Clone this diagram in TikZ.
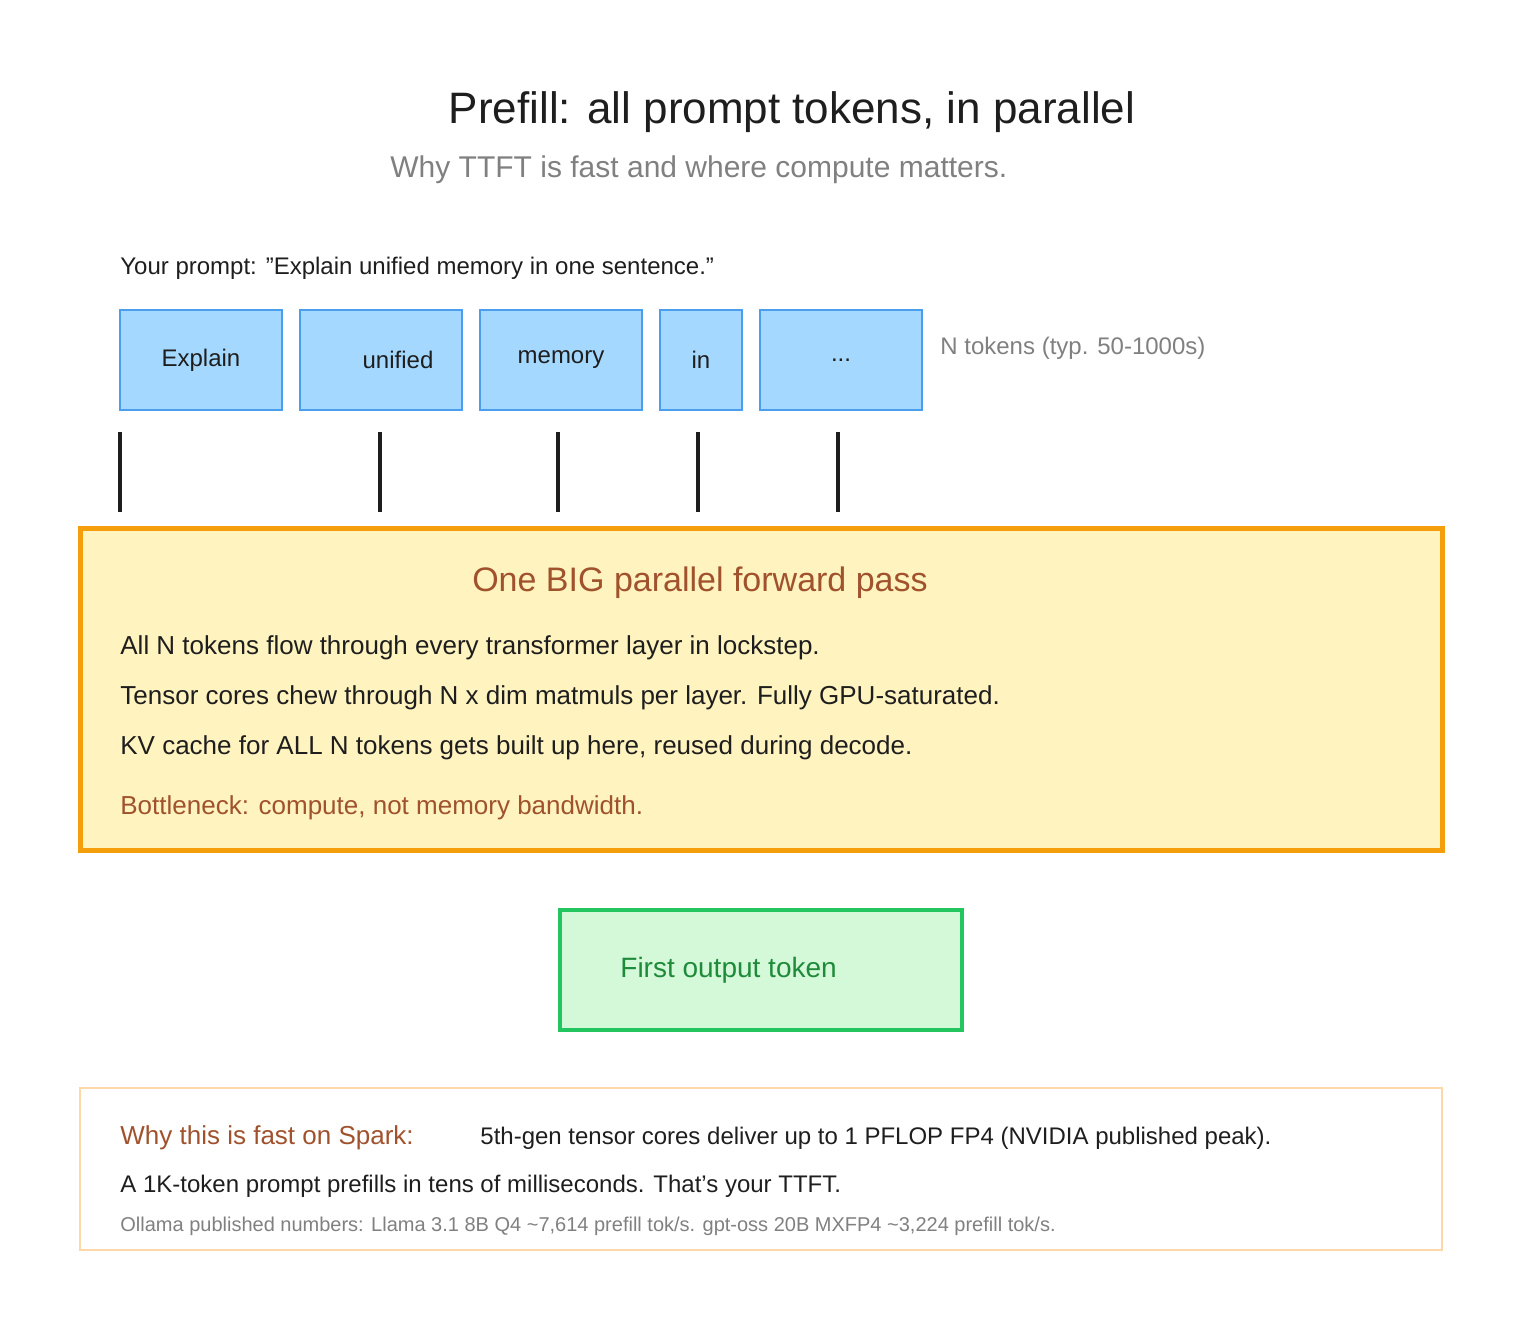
\documentclass[tikz,border=0pt]{standalone}
\usepackage{fontspec}
\setmainfont{Liberation Sans}
\usetikzlibrary{positioning}
\definecolor{tokfill}{HTML}{A5D8FF}
\definecolor{tokline}{HTML}{4A9EED}
\definecolor{passfill}{HTML}{FFF3BF}
\definecolor{passline}{HTML}{F59E0B}
\definecolor{brown}{HTML}{A0522D}
\definecolor{outfill}{HTML}{D3F9D8}
\definecolor{outline}{HTML}{22C55E}
\definecolor{outtext}{HTML}{1E8A3A}
\definecolor{notline}{HTML}{FFD8A8}
\definecolor{txt}{HTML}{1E1E1E}
\begin{document}
\begin{tikzpicture}[x=0.5pt,y=-0.5pt,
    token/.style={draw=tokline,fill=tokfill,line width=1.2pt,minimum height=50pt,inner sep=0pt,font=\fontsize{12}{14}\selectfont,text=txt},
    tick/.style={line width=2pt,txt},
    body/.style={anchor=west,inner sep=0pt,font=\fontsize{13}{15}\selectfont,text=txt}]
    \useasboundingbox (0,0) rectangle (1520,1330);

    \node[font=\fontsize{22}{26}\selectfont,text=txt] (title) at (792,112) {Prefill: all prompt tokens, in parallel};
    \node[anchor=west,inner sep=0pt,font=\fontsize{15}{18}\selectfont,text=gray] (sub) at (390,170) {Why TTFT is fast and where compute matters.};
    \node[body,font=\fontsize{12}{14}\selectfont] (prompt) at (120,268) {Your prompt: "Explain unified memory in one sentence."};

    \node[token,minimum width=81pt] (t1) at (201,360) {Explain};
    \node[token,minimum width=81pt] (t2) at (381,360) {\hspace{17pt}unified};
    \node[token,minimum width=81pt] (t3) at (561,360) {memory};
    \node[token,minimum width=41pt] (t4) at (701,360) {in};
    \node[token,minimum width=81pt] (t5) at (841,360) {...};
    \node[anchor=west,inner sep=0pt,font=\fontsize{12}{14}\selectfont,text=gray] (ntok) at (940,348) {N tokens (typ. 50-1000s)};

    \node[draw=passline,fill=passfill,line width=2.5pt,minimum width=681pt,minimum height=161pt,inner sep=0pt] (pass) at (761,689) {};
    \node[font=\fontsize{17}{20}\selectfont,text=brown] (head) at (700,583) {One BIG parallel forward pass};
    \node[body] (l1) at (120,648) {All N tokens flow through every transformer layer in lockstep.};
    \node[body] (l2) at (120,698) {Tensor cores chew through N x dim matmuls per layer. Fully GPU-saturated.};
    \node[body] (l3) at (120,748) {KV cache for ALL N tokens gets built up here, reused during decode.};
    \node[body,text=brown] (l4) at (120,808) {Bottleneck: compute, not memory bandwidth.};

    % ticks into the forward pass
    \foreach \x [count=\i] in {120,380,558,698,838} {
        \coordinate (a\i) at (\x,432);
        \coordinate (b\i) at (\x,512);
        \draw[tick] (a\i) -- (b\i);
    }

    \node[draw=outline,fill=outfill,line width=2pt,minimum width=201pt,minimum height=60pt,inner sep=0pt] (out) at (761,970) {};
    \node[anchor=west,inner sep=0pt,font=\fontsize{14}{17}\selectfont,text=outtext] (outlbl) at (620,970) {First output token};

    \node[draw=notline,line width=1pt,minimum width=681pt,minimum height=81pt,inner sep=0pt] (note) at (761,1169) {};
    \node[body,text=brown] (n1) at (120,1138) {Why this is fast on Spark:};
    \node[body,font=\fontsize{12}{14}\selectfont] (n2) at (480,1138) {5th-gen tensor cores deliver up to 1 PFLOP FP4 (NVIDIA published peak).};
    \node[body,font=\fontsize{12}{14}\selectfont] (n3) at (120,1186) {A 1K-token prompt prefills in tens of milliseconds. That's your TTFT.};
    \node[body,font=\fontsize{10}{12}\selectfont,text=gray] (n4) at (120,1226) {Ollama published numbers: Llama 3.1 8B Q4 \textasciitilde7,614 prefill tok/s. gpt-oss 20B MXFP4 \textasciitilde3,224 prefill tok/s.};
\end{tikzpicture}
\end{document}
